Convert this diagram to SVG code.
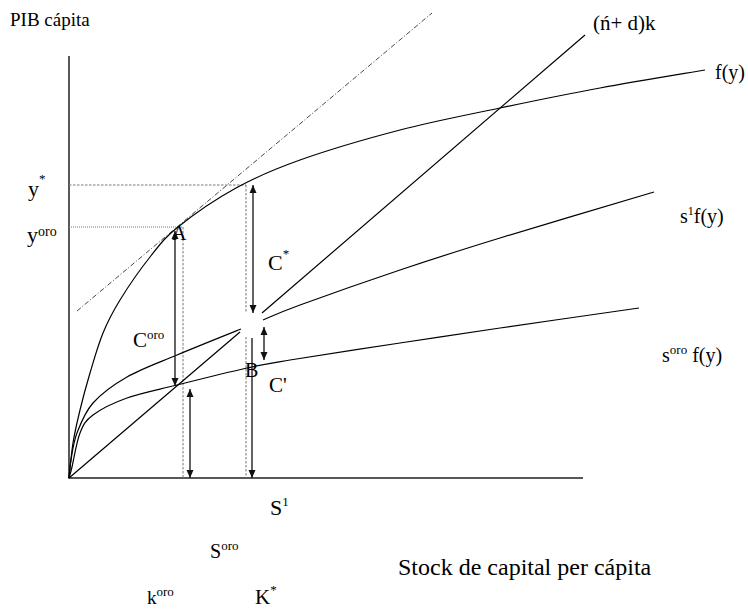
<svg xmlns="http://www.w3.org/2000/svg" width="748" height="610" viewBox="0 0 748 610">
<style>
text{font-family:"Liberation Serif","Times New Roman",serif;fill:#000}
.ax{fill:none;stroke:#222;stroke-width:1.5}
.cv{fill:none;stroke:#000;stroke-width:1.2}
.dash{fill:none;stroke:#777;stroke-width:1;stroke-dasharray:2.5 1.5}
.dot{fill:none;stroke:#777;stroke-width:1;stroke-dasharray:1 1}
.dd{fill:none;stroke:#333;stroke-width:0.9;stroke-dasharray:5 2 1 2}
.ar{fill:none;stroke:#222;stroke-width:1.4}
</style>
<defs>
<marker id="ah" markerUnits="userSpaceOnUse" markerWidth="8" markerHeight="8" refX="8" refY="3.5" orient="auto-start-reverse" viewBox="0 0 8 7">
<path d="M0,0 L8,3.5 L0,7 z" fill="#111"/>
</marker>
</defs>
<g id="axes">
<path class="ax" d="M69,56 V478 H583"/>
</g>
<g id="guides">
<path class="dd" d="M77,311 L432,13"/>
<path class="dash" d="M69,185 H246"/>
<path class="dot" d="M69,227 H183"/>
<path class="dash" d="M183,227 V478"/>
<path class="dash" d="M246,185 V312 M246,337 V478"/>
</g>
<g id="curves">
<path id="fy" class="cv" d="M69,478 C69.7,472.2 71.2,454.3 73,443 C74.8,431.7 77.2,421.7 80,410 C82.8,398.3 86.2,385.8 90,373 C93.8,360.2 98,345.2 103,333 C108,320.8 112.2,312.7 120,300 C127.8,287.3 140.3,269.2 150,257 C159.7,244.8 163.7,238.5 178,227 C192.3,215.5 215.7,199.2 236,188 C256.3,176.8 272.7,169.7 300,160 C327.3,150.3 366.7,138.7 400,130 C433.3,121.3 466.7,115 500,108 C533.3,101 565.8,94.3 600,88 C634.2,81.7 687.5,73 705,70"/>
<path id="s1fy" class="cv" d="M69,478 C69.3,475 69.7,467.5 71,460 C72.3,452.5 73.3,442.5 77,433 C80.7,423.5 84.7,412.3 93,403 C101.3,393.7 113,385 127,377 C141,369 158,363 177,355 C196,347 230.3,333.3 241,329 M263,320 C269.2,317.5 277.2,313.3 300,305 C322.8,296.7 366.7,281.2 400,270 C433.3,258.8 457.7,251 500,238 C542.3,225 628.3,199.7 654,192"/>
<path id="sorofy" class="cv" d="M69,478 C69.5,476.2 70.2,474.5 72,467 C73.8,459.5 76.5,441.7 80,433 C83.5,424.3 85.2,420.8 93,415 C100.8,409.2 113,403 127,398 C141,393 157,390 177,385 C197,380 228.2,372.2 247,368 C265.8,363.8 264.5,364.2 290,360 C315.5,355.8 365,348.3 400,343 C435,337.7 460.2,333.8 500,328 C539.8,322.2 615.8,311.3 639,308"/>
<path id="ndk" class="cv" d="M69,478 L240,332 M262,313 L585,35"/>
</g>
<g id="arrows">
<path class="ar" d="M175,231 V386" marker-start="url(#ah)" marker-end="url(#ah)"/>
<path class="ar" d="M190,389 V478" marker-start="url(#ah)" marker-end="url(#ah)"/>
<path class="ar" d="M253,185 V313" marker-start="url(#ah)" marker-end="url(#ah)"/>
<path class="ar" d="M252,338 V478" marker-end="url(#ah)"/>
<path class="ar" d="M264,327 V360" marker-start="url(#ah)" marker-end="url(#ah)"/>
</g>
<g id="labels">
<text x="10" y="26" font-size="19">PIB cápita</text>
<text x="593" y="30" font-size="21">(ń+ d)k</text>
<text x="715" y="79" font-size="20">f(y)</text>
<text x="680" y="223" font-size="20">s<tspan font-size="12" dy="-8">1</tspan><tspan dy="8">f(y)</tspan></text>
<text x="662" y="362" font-size="20">s<tspan font-size="13" dy="-8">oro</tspan><tspan dy="8"> f(y)</tspan></text>
<text x="28" y="196" font-size="22">y<tspan font-size="13" dy="-13">*</tspan></text>
<text x="27" y="242" font-size="22">y<tspan font-size="14" dy="-6">oro</tspan></text>
<text x="172" y="240" font-size="20">A</text>
<text x="268" y="270" font-size="22">C<tspan font-size="13" dy="-12">*</tspan></text>
<text x="133" y="347" font-size="21">C<tspan font-size="13" dy="-8">oro</tspan></text>
<text x="245" y="377" font-size="20">B</text>
<text x="269" y="392" font-size="21">C'</text>
<text x="270" y="515" font-size="22">S<tspan font-size="13" dy="-9">1</tspan></text>
<text x="210" y="558" font-size="20">S<tspan font-size="13" dy="-8">oro</tspan></text>
<text x="398" y="575" font-size="24">Stock de capital per cápita</text>
<text x="147" y="604" font-size="19">k<tspan font-size="13" dy="-8">oro</tspan></text>
<text x="255" y="604" font-size="21">K<tspan font-size="13" dy="-10">*</tspan></text>
</g>
</svg>
